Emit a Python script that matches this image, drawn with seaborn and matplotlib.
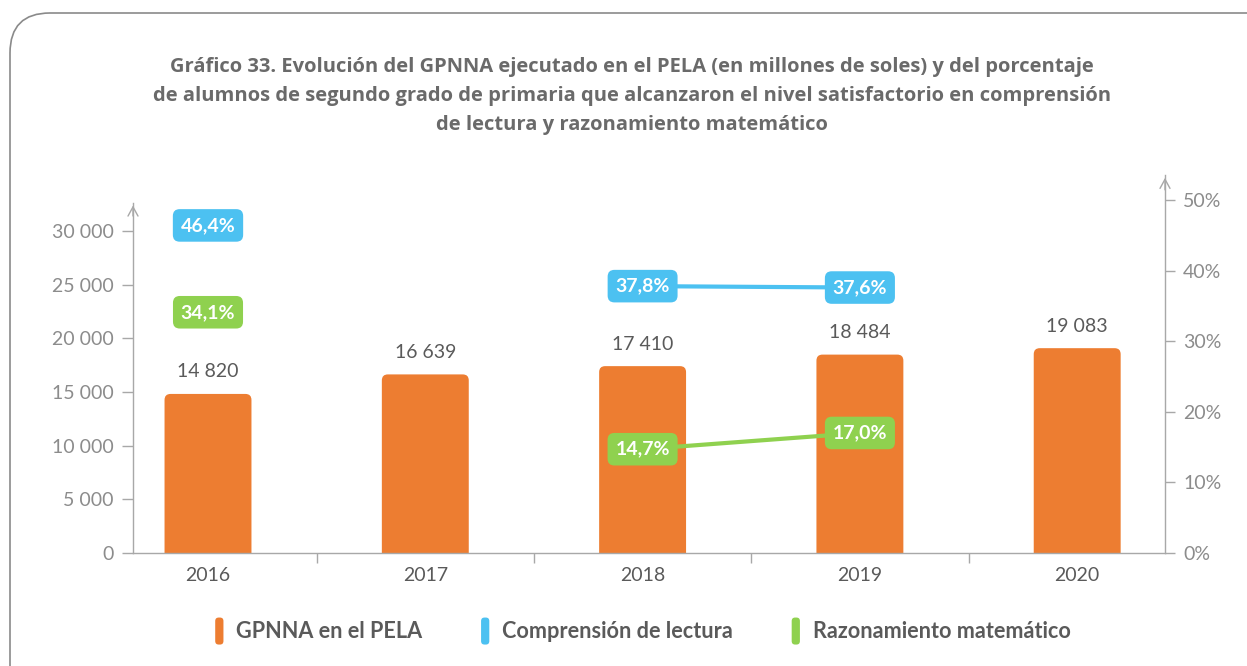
import matplotlib
matplotlib.use("Agg")
import matplotlib.pyplot as plt
from matplotlib.patches import FancyBboxPatch, Patch
from matplotlib.legend_handler import HandlerPatch
from matplotlib.ticker import FixedLocator, FuncFormatter
import numpy as np
import pandas as pd
import seaborn as sns

# ---- data ----
years = ["2016", "2017", "2018", "2019", "2020"]
gpnna = [14820, 16639, 17410, 18484, 19083]
comprension = [46.4, np.nan, 37.8, 37.6, np.nan]
razonamiento = [34.1, np.nan, 14.7, 17.0, np.nan]
left_ticks = [0, 5000, 10000, 15000, 20000, 25000, 30000]
right_ticks = [0, 10, 20, 30, 40, 50]
legend_labels = ["GPNNA en el PELA", "Comprensión de lectura", "Razonamiento matemático"]
title = ("Gráfico 33. Evolución del GPNNA ejecutado en el PELA (en millones de soles) y del porcentaje\n"
         "de alumnos de segundo grado de primaria que alcanzaron el nivel satisfactorio en comprensión\n"
         "de lectura y razonamiento matemático")

ORANGE = "#ED7D31"
BLUE = "#4CC1F1"
GREEN = "#8FD14F"
AXIS = "#A8A8A8"
TICK_TXT = "#8C8C8C"
DARK_TXT = "#5A5A5A"

sns.set_theme(style="white")
plt.rcParams["font.family"] = ["Lato", "DejaVu Sans"]

W, H = 1247, 666
fig = plt.figure(figsize=(W / 100, H / 100), dpi=100)

# rounded outer frame (open to the right and bottom)
frame = FancyBboxPatch((10 / W, -0.2), 1.3, (H - 13) / H + 0.2,
                       boxstyle=f"round,pad=0,rounding_size={40 / W}",
                       mutation_aspect=W / H, transform=fig.transFigure,
                       fill=False, edgecolor="#8A8A8A", linewidth=1.2)
fig.patches.append(frame)

fig.text(0.507, 1 - 96 / H, title, ha="center", va="center", fontsize=14.5,
         fontweight="bold", color="#6A6A6A", family=["Open Sans", "DejaVu Sans"],
         linespacing=1.62)

ax_l, ax_r, ax_b, ax_t = 133, 1165, 553, 175
ax = fig.add_axes([ax_l / W, 1 - ax_b / H, (ax_r - ax_l) / W, (ax_b - ax_t) / H])

df = pd.DataFrame({"year": years, "gpnna": gpnna})
sns.barplot(data=df, x="year", y="gpnna", color=ORANGE, saturation=1, width=0.4, ax=ax)

# axis scales: 30 000 sits at 322 px above the baseline, 50% at 353 px
ytop_l = 30000 * (ax_b - ax_t) / 322
ytop_r = 50 * (ax_b - ax_t) / 353
unit_px = 217.3
xl = -(208 - ax_l) / unit_px
xr = xl + (ax_r - ax_l) / unit_px
ax.set_xlim(xl, xr)
ax.set_ylim(0, ytop_l)

# rounded tops for bars
x_per_px = (xr - xl) / (ax_r - ax_l)
y_per_px = ytop_l / (ax_b - ax_t)
rad_px = 6
bars = list(ax.patches)
for p in bars:
    x0, w, h = p.get_x(), p.get_width(), p.get_height()
    p.remove()
    fb = FancyBboxPatch((x0, -rad_px * 2 * y_per_px), w, h + rad_px * 2 * y_per_px,
                        boxstyle=f"round,pad=0,rounding_size={rad_px * x_per_px}",
                        mutation_aspect=y_per_px / x_per_px,
                        facecolor=ORANGE, edgecolor="none", zorder=2)
    ax.add_patch(fb)

for i, v in enumerate(gpnna):
    ax.text(i, v + 22 * y_per_px, f"{v:,}".replace(",", " "), ha="center", va="center",
            fontsize=14, color=DARK_TXT)

ax.set_xlabel("")
ax.set_ylabel("")
ax.yaxis.set_major_locator(FixedLocator(left_ticks))
ax.yaxis.set_major_formatter(FuncFormatter(lambda v, _: f"{int(v):,}".replace(",", " ")))
ax.tick_params(axis="y", which="major", length=8, width=1, color=AXIS, direction="out",
               labelsize=14, labelcolor=TICK_TXT, pad=6, left=True)
ax.tick_params(axis="x", which="major", length=0, labelsize=14, labelcolor=DARK_TXT, pad=10)
ax.xaxis.set_minor_locator(FixedLocator([0.5, 1.5, 2.5, 3.5]))
ax.tick_params(axis="x", which="minor", length=7, width=1, color=AXIS, direction="out", bottom=True)

for s in ["top", "right"]:
    ax.spines[s].set_visible(False)
for s in ["left", "bottom"]:
    ax.spines[s].set_color(AXIS)
    ax.spines[s].set_linewidth(1)
arrow_top_l = 32640
ax.spines["left"].set_bounds(0, arrow_top_l)
ax.annotate("", xy=(xl, arrow_top_l), xytext=(xl, arrow_top_l - 1500),
            arrowprops=dict(arrowstyle="->,head_length=0.55,head_width=0.3", color=AXIS, lw=1),
            annotation_clip=False)

# right axis: percentages
ax2 = ax.twinx()
ax2.set_ylim(0, ytop_r)
ax2.set_xlim(xl, xr)
for s in ["top", "left", "bottom"]:
    ax2.spines[s].set_visible(False)
ax2.spines["right"].set_color(AXIS)
ax2.spines["right"].set_linewidth(1)
ax2.yaxis.set_major_locator(FixedLocator(right_ticks))
ax2.yaxis.set_major_formatter(FuncFormatter(lambda v, _: f"{int(v)}%"))
ax2.tick_params(axis="y", length=7, width=1, color=AXIS, direction="out",
                labelsize=14, labelcolor=TICK_TXT, pad=6, right=True)
ax2.annotate("", xy=(xr, ytop_r), xytext=(xr, ytop_r - 2.5),
             arrowprops=dict(arrowstyle="->,head_length=0.55,head_width=0.3", color=AXIS, lw=1),
             annotation_clip=False)
ax2.grid(False)
ax.grid(False)

xs = np.arange(len(years))
for series, col in [(comprension, BLUE), (razonamiento, GREEN)]:
    ax2.plot(xs, series, color=col, lw=3, solid_capstyle="butt", zorder=3)
    for i, v in enumerate(series):
        if np.isnan(v):
            continue
        ax2.text(i, v, f"{v:.1f}%".replace(".", ","), ha="center", va="center",
                 fontsize=14, fontweight="bold", color="white", zorder=4,
                 bbox=dict(boxstyle="round,pad=0.4,rounding_size=0.35", fc=col, ec="none"))


# legend with narrow rounded swatches
class RoundHandler(HandlerPatch):
    def create_artists(self, legend, orig_handle, xdescent, ydescent, width, height, fontsize, trans):
        p = FancyBboxPatch((-xdescent, -ydescent - 3), width, height + 6,
                           boxstyle="round,pad=0,rounding_size=2.5",
                           facecolor=orig_handle.get_facecolor(), edgecolor="none", transform=trans)
        return [p]


handles = [Patch(facecolor=c) for c in (ORANGE, BLUE, GREEN)]
leg = fig.legend(handles, legend_labels, loc="center", bbox_to_anchor=(643 / W, 1 - 632 / H),
                 ncol=3, frameon=False, handlelength=0.38, handleheight=0.95, handletextpad=0.6,
                 columnspacing=2.7, prop=dict(size=15.6, weight="bold"),
                 handler_map={Patch: RoundHandler()})
for t in leg.get_texts():
    t.set_color(DARK_TXT)

fig.savefig("out.png", dpi=100)
